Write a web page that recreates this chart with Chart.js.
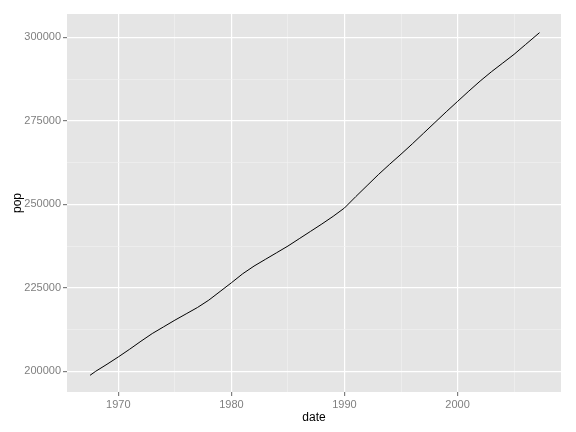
<!DOCTYPE html>
<html>
<head>
<meta charset="utf-8">
<script src="https://cdn.jsdelivr.net/npm/chart.js@4"></script>
<style>
  html, body { margin: 0; padding: 0; background: #fff; }
  #wrap { width: 576px; height: 432px; }
</style>
</head>
<body>
<div id="wrap"><canvas id="popChart" width="576" height="432"></canvas></div>
<script>
// date as decimal year, pop
const years = [1967.5, 1968, 1969, 1970, 1971, 1972, 1973, 1974, 1975, 1976,
  1977, 1978, 1979, 1980, 1981, 1982, 1983, 1984, 1985, 1986,
  1987, 1988, 1989, 1990, 1991, 1992, 1993, 1994, 1995, 1996,
  1997, 1998, 1999, 2000, 2001, 2002, 2003, 2004, 2005, 2006, 2007.25];
const pop = [198800, 200000, 202100, 204300, 206600, 209000, 211300, 213300, 215300, 217200,
  219100, 221300, 223900, 226500, 229200, 231500, 233500, 235500, 237500, 239700,
  241900, 244100, 246400, 248900, 252300, 255600, 258900, 262000, 265000, 268100,
  271300, 274500, 277700, 280800, 283900, 286900, 289700, 292300, 294900, 297800, 301400];
const xTicks = [1970, 1980, 1990, 2000];
const yTicks = [200000, 225000, 250000, 275000, 300000];

const ctx = document.getElementById('popChart').getContext('2d');

// grey panel behind the plot, like ggplot
const panelBg = {
  id: 'panelBg',
  beforeDraw(chart) {
    const a = chart.chartArea;
    const c = chart.ctx;
    c.save();
    c.fillStyle = '#E5E5E5';
    c.fillRect(a.left, a.top, a.right - a.left, a.bottom - a.top);
    c.restore();
  }
};

function isMajor(list, v) {
  return list.some(t => Math.abs(t - v) < 1e-6);
}

new Chart(ctx, {
  type: 'line',
  data: {
    datasets: [{
      data: years.map((y, i) => ({ x: y, y: pop[i] })),
      borderColor: '#000000',
      borderWidth: 1,
      pointRadius: 0,
      tension: 0,
      fill: false
    }]
  },
  options: {
    responsive: false,
    animation: false,
    layout: { padding: { top: 14, right: 15, left: 0, bottom: 0 } },
    plugins: { legend: { display: false }, tooltip: { enabled: false } },
    scales: {
      x: {
        type: 'linear',
        min: 1965.46,
        max: 2009.15,
        afterFit(scale) { scale.height = 40; },
        afterBuildTicks(scale) {
          scale.ticks = [1975, 1985, 1995, 2005].concat(xTicks).map(v => ({ value: v }));
        },
        ticks: {
          autoSkip: false,
          maxRotation: 0,
          padding: 2,
          color: '#7F7F7F',
          font: { family: 'Liberation Sans', size: 11 },
          callback: v => isMajor(xTicks, v) ? String(v) : ''
        },
        grid: {
          color: c => isMajor(xTicks, c.tick.value) ? '#FFFFFF' : '#F2F2F2',
          lineWidth: c => isMajor(xTicks, c.tick.value) ? 1.2 : 0.6,
          tickColor: c => isMajor(xTicks, c.tick.value) ? '#7F7F7F' : 'rgba(0,0,0,0)',
          tickLength: 4,
          drawTicks: true
        },
        border: { display: false },
        title: {
          display: true,
          text: 'date',
          color: '#000000',
          font: { family: 'Liberation Sans', size: 12 },
          padding: { top: 0, bottom: 7 }
        }
      },
      y: {
        type: 'linear',
        min: 193795,
        max: 306985,
        afterFit(scale) { scale.width = 67; },
        afterBuildTicks(scale) {
          scale.ticks = [212500, 237500, 262500, 287500].concat(yTicks).map(v => ({ value: v }));
        },
        ticks: {
          autoSkip: false,
          padding: 2,
          color: '#7F7F7F',
          font: { family: 'Liberation Sans', size: 11 },
          callback: v => isMajor(yTicks, v) ? String(v) : ''
        },
        grid: {
          color: c => isMajor(yTicks, c.tick.value) ? '#FFFFFF' : '#F2F2F2',
          lineWidth: c => isMajor(yTicks, c.tick.value) ? 1.2 : 0.6,
          tickColor: c => isMajor(yTicks, c.tick.value) ? '#7F7F7F' : 'rgba(0,0,0,0)',
          tickLength: 4,
          drawTicks: true
        },
        border: { display: false },
        title: {
          display: true,
          text: 'pop',
          color: '#000000',
          font: { family: 'Liberation Sans', size: 12 },
          padding: { top: 10, bottom: 0 }
        }
      }
    }
  },
  plugins: [panelBg]
});
</script>
</body>
</html>
